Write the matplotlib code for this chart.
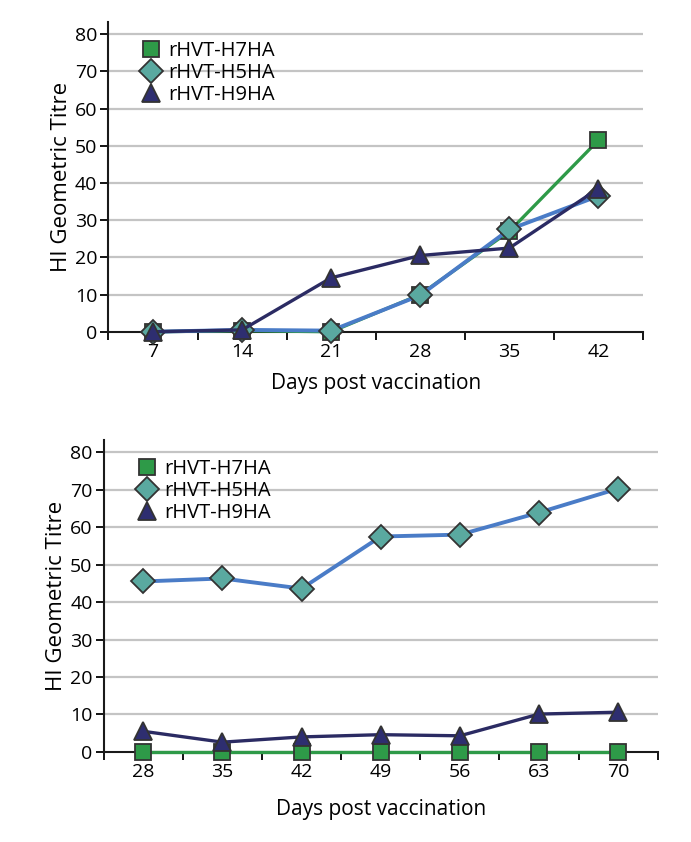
import numpy as np
from matplotlib import pyplot as plt

plt.rcParams['font.family'] = ['Open Sans', 'DejaVu Sans']

# panel A : days 7-42
daysA = [7, 14, 21, 28, 35, 42]
h7A = [0, 0.3, 0, 10, 27, 51.5]
h5A = [0, 0.5, 0.3, 9.8, 27.5, 36.5]
h9A = [0, 0.5, 14.5, 20.5, 22.5, 38.5]

# panel B : days 28-70
daysB = [28, 35, 42, 49, 56, 63, 70]
h7B = [0, 0, 0, 0, 0, 0, 0]
h5B = [45.5, 46.3, 43.6, 57.5, 58, 63.9, 70.3]
h9B = [5.5, 2.6, 4, 4.6, 4.3, 10.1, 10.6]

labels = ['rHVT-H7HA', 'rHVT-H5HA', 'rHVT-H9HA']
yticks = [0, 10, 20, 30, 40, 50, 60, 70, 80]

edge = '#333333'
styles = [
    dict(color='#2e9a48', marker='s', markerfacecolor='#2e9a48', markersize=12, lw=2.4),
    dict(color='#4a7cc7', marker='D', markerfacecolor='#5aa9a0', markersize=12, lw=2.8),
    dict(color='#2b2b63', marker='^', markerfacecolor='#2e2e70', markersize=13.5, lw=2.4),
]


def drawPanel(ax, days, series, xpad):
    pos = np.arange(len(days))
    for vals, lab, st in zip(series, labels, styles):
        ax.plot(pos, vals, markeredgecolor=edge, markeredgewidth=1.3,
                label=lab, clip_on=False, zorder=3, **st)
    ax.set_xlim(-0.5, len(days) - 0.5)
    ax.set_ylim(0, 83.3)
    ax.set_yticks(yticks)
    ax.set_xticks(pos)
    ax.set_xticklabels([str(d) for d in days])
    ax.set_xticks(np.arange(len(days) + 1) - 0.5, minor=True)
    ax.tick_params(axis='x', which='major', length=0, labelsize=14, pad=8)
    ax.tick_params(axis='x', which='minor', length=6, width=1.3, direction='out')
    ax.tick_params(axis='y', length=6, width=1.3, labelsize=14, pad=2)
    for y in yticks[1:]:
        ax.axhline(y, color='#c4c4c4', lw=1.6, zorder=0)
    for s in ['top', 'right']:
        ax.spines[s].set_visible(False)
    for s in ['left', 'bottom']:
        ax.spines[s].set_linewidth(1.5)
        ax.spines[s].set_color('#1a1a1a')
    ax.set_xlabel('Days post vaccination', fontsize=15, labelpad=xpad)
    ax.set_ylabel('HI Geometric Titre', fontsize=16, labelpad=2)
    leg = ax.legend(loc='upper left', bbox_to_anchor=(0.035, 0.985), frameon=False,
                    fontsize=14.5, handlelength=1.0, handletextpad=0.35,
                    labelspacing=0.12, borderpad=0.2)
    for h in leg.legend_handles:
        h.set_linestyle('none')


fig = plt.figure(figsize=(6.91, 8.42), dpi=100)
axA = fig.add_axes([0.157, 0.606, 0.7735, 0.368])
axB = fig.add_axes([0.150, 0.107, 0.802, 0.3706])

drawPanel(axA, daysA, [h7A, h5A, h9A], 9)
drawPanel(axB, daysB, [h7B, h5B, h9B], 13)

fig.savefig('out.png', dpi=100)
